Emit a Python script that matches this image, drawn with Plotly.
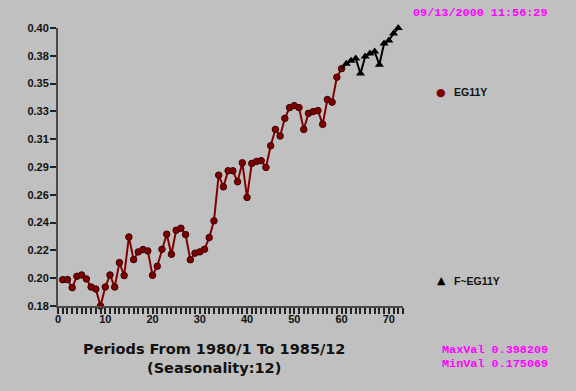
import plotly.graph_objects as go

# ---- data ----
periods_actual = list(range(1, 61))
eg11y = [0.1962, 0.1963, 0.1898, 0.1989, 0.2000, 0.1968, 0.1903, 0.1887, 0.175069, 0.1903,
         0.2000, 0.1903, 0.2099, 0.1995, 0.2305, 0.2123, 0.2185, 0.2204, 0.2193, 0.1997,
         0.2070, 0.2206, 0.2327, 0.2166, 0.2359, 0.2375, 0.2324, 0.2122, 0.2175, 0.2185,
         0.2206, 0.2300, 0.2434, 0.2801, 0.2707, 0.2836, 0.2836, 0.2748, 0.2900, 0.2622,
         0.2895, 0.2911, 0.2917, 0.2863, 0.3037, 0.3168, 0.3115, 0.3257, 0.3343, 0.3359,
         0.3343, 0.3168, 0.3297, 0.3311, 0.3319, 0.3209, 0.3408, 0.3387, 0.3587, 0.3656]
periods_forecast = list(range(61, 73))
f_eg11y = [0.3696, 0.3720, 0.3737, 0.3616, 0.3753, 0.3777, 0.3793, 0.3688, 0.3858, 0.3882,
           0.3938, 0.398209]
series_names = ["EG11Y", "F~EG11Y"]
max_val = 0.398209
min_val = 0.175069
y_tick_labels = ["0.18", "0.20", "0.22", "0.24", "0.26", "0.29", "0.31", "0.33", "0.35", "0.38", "0.40"]
x_max = 73
x_label_step = 10
stamp = "09/13/2000 11:56:29"
title_lines = ["Periods From 1980/1 To 1985/12", "(Seasonality:12)"]

# ---- derived axis settings ----
n = len(y_tick_labels) - 1
y_tick_vals = [min_val + i * (max_val - min_val) / n for i in range(n + 1)]
x_tick_vals = list(range(0, x_max + 1))
x_tick_text = [str(v) if v % x_label_step == 0 else "" for v in x_tick_vals]

W, H = 576, 391
ML, MR, MT, MB = 58, 173, 28, 85
PW, PH = W - ML - MR, H - MT - MB


def px(xp):
    return (xp - ML) / PW


def py(yp):
    return (H - MB - yp) / PH


BG = "#c0c0c0"
RED = "#800000"
AX = "#4a4a4a"
tickfont = dict(family="Liberation Sans, Arial, sans-serif", size=11, color="#111111", weight="bold")

fig = go.Figure()
fig.add_trace(go.Scatter(
    x=periods_actual, y=eg11y, mode="lines+markers", name=series_names[0],
    line=dict(color=RED, width=2),
    marker=dict(symbol="circle", size=6.5, color=RED, line=dict(color="#3a0000", width=1)),
    cliponaxis=False, showlegend=False))
fig.add_trace(go.Scatter(
    x=[periods_actual[-1]] + periods_forecast, y=[eg11y[-1]] + f_eg11y, mode="lines",
    line=dict(color="#000000", width=2), cliponaxis=False, showlegend=False, hoverinfo="skip"))
fig.add_trace(go.Scatter(
    x=periods_forecast, y=f_eg11y, mode="markers", name=series_names[1],
    marker=dict(symbol="triangle-up", size=8, color="#000000"),
    cliponaxis=False, showlegend=False))

common_x = dict(range=[0, x_max], tickmode="array", tickvals=x_tick_vals, showgrid=False,
                zeroline=False, ticklen=6, tickwidth=1.5, tickcolor="#222222")
common_y = dict(range=[min_val, max_val], tickmode="array", tickvals=y_tick_vals, showgrid=False,
                zeroline=False, ticklen=6, tickwidth=1.5, tickcolor="#222222")

fig.update_layout(
    width=W, height=H, margin=dict(l=ML, r=MR, t=MT, b=MB),
    paper_bgcolor=BG, plot_bgcolor=BG, showlegend=False,
    xaxis=dict(**common_x, ticks="outside", ticktext=x_tick_text, tickfont=tickfont,
               showline=True, linecolor=AX, linewidth=2, ticklabelstandoff=-4),
    xaxis2=dict(**common_x, ticks="inside", overlaying="x", showticklabels=False, showline=False),
    yaxis=dict(**common_y, ticks="outside", ticktext=y_tick_labels, tickfont=tickfont,
               showline=True, linecolor=AX, linewidth=2, ticklabelstandoff=-1),
    yaxis2=dict(**common_y, ticks="inside", overlaying="y", side="left", showticklabels=False,
                showline=False),
)

mono = dict(family="Liberation Mono, DejaVu Sans Mono, monospace", size=11.8, color="#ff00ff", weight="bold")
legend_font = dict(family="Liberation Sans, Arial, sans-serif", size=10.5, color="#111111", weight="bold")
sym_font = dict(family="DejaVu Sans, sans-serif", size=11)
title_font = dict(family="DejaVu Sans, sans-serif", size=14.5, color="#111111", weight="bold")

ann = [
    dict(text=stamp, x=px(480), y=py(13), xanchor="center", yanchor="middle", font=mono),
    dict(text="MaxVal " + f"{max_val:.6f}", x=px(440), y=py(350), xanchor="left", yanchor="middle", font=mono),
    dict(text="MinVal " + f"{min_val:.6f}", x=px(440), y=py(364), xanchor="left", yanchor="middle", font=mono),
    dict(text="●", x=px(441), y=py(92), xanchor="center", yanchor="middle", font=dict(**sym_font, color=RED)),
    dict(text=series_names[0], x=px(452), y=py(92), xanchor="left", yanchor="middle", font=legend_font),
    dict(text="▲", x=px(441.5), y=py(280.5), xanchor="center", yanchor="middle", font=dict(**sym_font, color="#000000")),
    dict(text=series_names[1], x=px(452), y=py(280.5), xanchor="left", yanchor="middle", font=legend_font),
    dict(text=title_lines[0], x=px(214), y=py(349), xanchor="center", yanchor="middle", font=title_font),
    dict(text=title_lines[1], x=px(214), y=py(368), xanchor="center", yanchor="middle", font=title_font),
]
for a in ann:
    fig.add_annotation(xref="paper", yref="paper", showarrow=False, **a)

fig.write_html("out.html", config={"displayModeBar": False},
               post_script="document.body.style.margin='0';document.body.style.background='#c0c0c0';")
